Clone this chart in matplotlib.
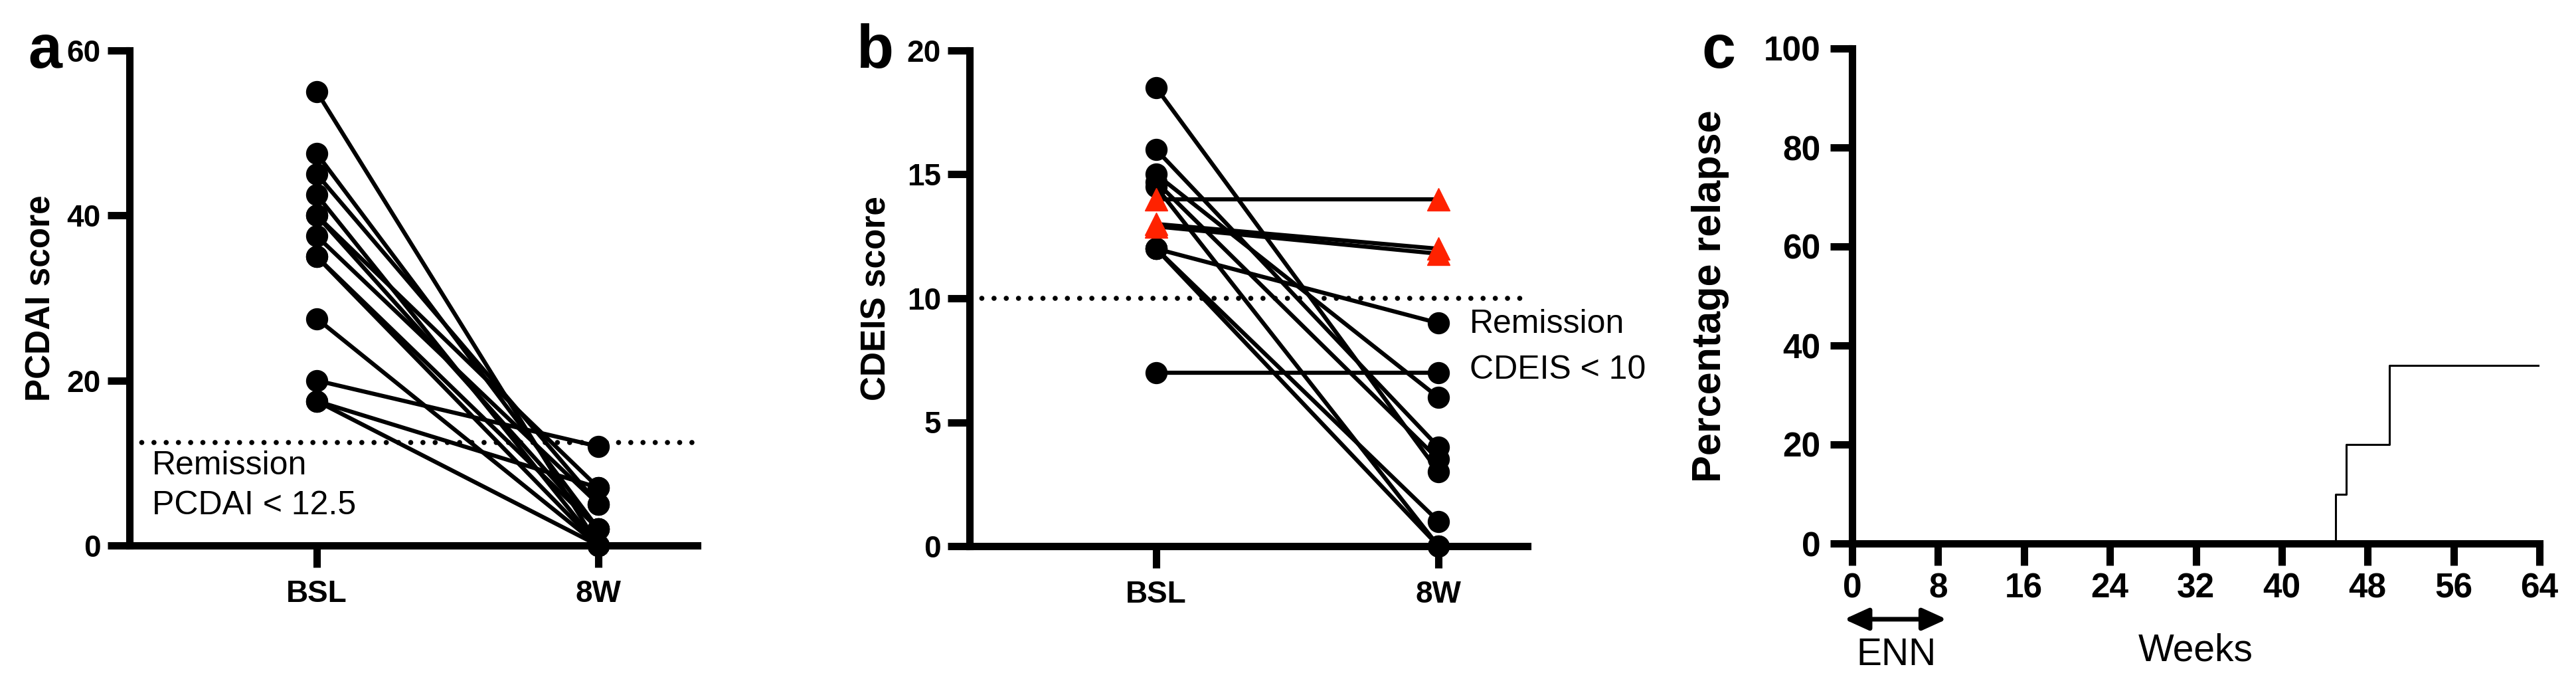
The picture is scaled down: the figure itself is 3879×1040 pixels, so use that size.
import matplotlib
matplotlib.use('Agg')
import matplotlib.pyplot as plt
import matplotlib.transforms as mtrans

plt.rcParams['font.family'] = ['Liberation Sans', 'DejaVu Sans']

# ---------------- data ----------------
timepoints = ['BSL', '8W']

pcdai_bsl = [55, 47.5, 45, 42.5, 40, 40, 37.5, 35, 35, 27.5, 20, 17.5, 17.5]
pcdai_8w = [0, 2, 5, 0, 7, 2, 5, 0, 2, 0, 12, 7, 0]
pcdai_cutoff = 12.5

cdeis_bsl = [18.5, 16, 15, 14.7, 14.5, 12, 12, 12, 7, 14, 13, 12.9]
cdeis_8w = [3, 4, 6, 3.5, 0, 9, 1, 0, 7, 14, 12, 11.8]
cdeis_no_remission = [0, 0, 0, 0, 0, 0, 0, 0, 0, 1, 1, 1]
cdeis_cutoff = 10

relapse_weeks = [0, 45, 46, 50, 64]
relapse_pct = [0, 10, 20, 36, 36]
week_ticks = [0, 8, 16, 24, 32, 40, 48, 56, 64]
pct_ticks = [0, 20, 40, 60, 80, 100]
pcdai_ticks = [0, 20, 40, 60]
cdeis_ticks = [0, 5, 10, 15, 20]

# ---------------- figure ----------------
W, H = 3879, 1040
fig = plt.figure(figsize=(W / 100, H / 100), dpi=100)


def px_axes(l, r, b, t):
    return fig.add_axes([l / W, 1 - b / H, (r - l) / W, (b - t) / H])


RED = '#ff2200'
SPINE_LW = 8
TICK_LEN = 24


def style(ax, tick_fs, xpad, ypad):
    for s in ['top', 'right']:
        ax.spines[s].set_visible(False)
    for s in ['left', 'bottom']:
        ax.spines[s].set_linewidth(SPINE_LW)
        ax.spines[s].set_capstyle('projecting')
    ax.tick_params(axis='both', direction='out', length=TICK_LEN, width=SPINE_LW,
                   labelsize=tick_fs)
    ax.tick_params(axis='x', pad=xpad)
    ax.tick_params(axis='y', pad=ypad)
    for lab in ax.get_xticklabels() + ax.get_yticklabels():
        lab.set_fontweight('bold')


# ---------- panel a ----------
axA = px_axes(195, 1050, 821, 76)
axA.set_xlim(-0.665, 1.351)
axA.set_ylim(0, 60)
for b, w in zip(pcdai_bsl, pcdai_8w):
    axA.plot([0, 1], [b, w], color='black', lw=4.5, marker='o', ms=23,
             zorder=4, clip_on=False)
axA.axhline(pcdai_cutoff, color='black', lw=5.5, ls=(0, (0.01, 2.4)),
            dash_capstyle='round', zorder=3)
axA.set_xticks([0, 1])
axA.set_xticklabels(timepoints)
axA.set_yticks(pcdai_ticks)
style(axA, 33, 13, 7)
axA.text((62 - 195) / 855, 0.5, 'PCDAI score', transform=axA.transAxes,
         rotation=90, ha='center', va='center', fontsize=37, fontweight='bold')
axA.text(-0.585, 9.7, 'Remission', fontsize=36, ha='left', va='center')
axA.text(-0.585, 4.8, 'PCDAI < 12.5', fontsize=36, ha='left', va='center')

# ---------- panel b ----------
axB = px_axes(1460, 2300, 822, 76)
axB.set_xlim(-0.661, 1.315)
axB.set_ylim(0, 20)
for b, w, nr in zip(cdeis_bsl, cdeis_8w, cdeis_no_remission):
    if nr:
        axB.plot([0, 1], [b, w], color='black', lw=4.5, zorder=4, clip_on=False)
        axB.plot([0, 1], [b, w], ls='none', marker='^', color=RED, ms=24,
                 zorder=6, clip_on=False)
    else:
        axB.plot([0, 1], [b, w], color='black', lw=4.5, marker='o', ms=23,
                 zorder=4, clip_on=False)
axB.axhline(cdeis_cutoff, color='black', lw=5.5, ls=(0, (0.01, 2.4)),
            dash_capstyle='round', zorder=3)
axB.set_xticks([0, 1])
axB.set_xticklabels(timepoints)
axB.set_yticks(cdeis_ticks)
style(axB, 33, 13, 7)
axB.text((1320 - 1460) / 840, 0.5, 'CDEIS score', transform=axB.transAxes,
         rotation=90, ha='center', va='center', fontsize=37, fontweight='bold')
axB.text(1.111, 8.95, 'Remission', fontsize=36, ha='left', va='center')
axB.text(1.111, 7.1, 'CDEIS < 10', fontsize=36, ha='left', va='center')

# ---------- panel c ----------
axC = px_axes(2789, 3824, 818, 73)
axC.set_xlim(0, 64)
axC.set_ylim(0, 100)
axC.step(relapse_weeks, relapse_pct, where='post', color='black', lw=2.2,
         zorder=2)
axC.set_xticks(week_ticks)
axC.set_yticks(pct_ticks)
style(axC, 37, 7, 10)
axC.text((2575 - 2789) / 1035, 0.5, 'Percentage relapse', transform=axC.transAxes,
         rotation=90, ha='center', va='center', fontsize=44, fontweight='bold')
blend = mtrans.blended_transform_factory(axC.transData, axC.transAxes)
axC.text(32, -0.217, 'Weeks', transform=blend, ha='center', va='center',
         fontsize=41)
axC.text(4.1, -0.226, 'ENN', transform=blend, ha='center', va='center',
         fontsize=41)
axC.annotate('', xy=(-0.74, -0.153), xytext=(8.8, -0.153), xycoords=blend,
             textcoords=blend, annotation_clip=False,
             arrowprops=dict(arrowstyle='<|-|>,head_length=1.1,head_width=0.5',
                             lw=5, color='black', shrinkA=0, shrinkB=0,
                             mutation_scale=20))

# ---------- panel letters ----------
for x, letter in [(42, 'a'), (1290, 'b'), (2562, 'c')]:
    fig.text(x / W, 1 - 102 / H, letter, fontsize=66, fontweight='bold',
             ha='left', va='baseline')

fig.savefig('out.png', dpi=100, facecolor='white')
